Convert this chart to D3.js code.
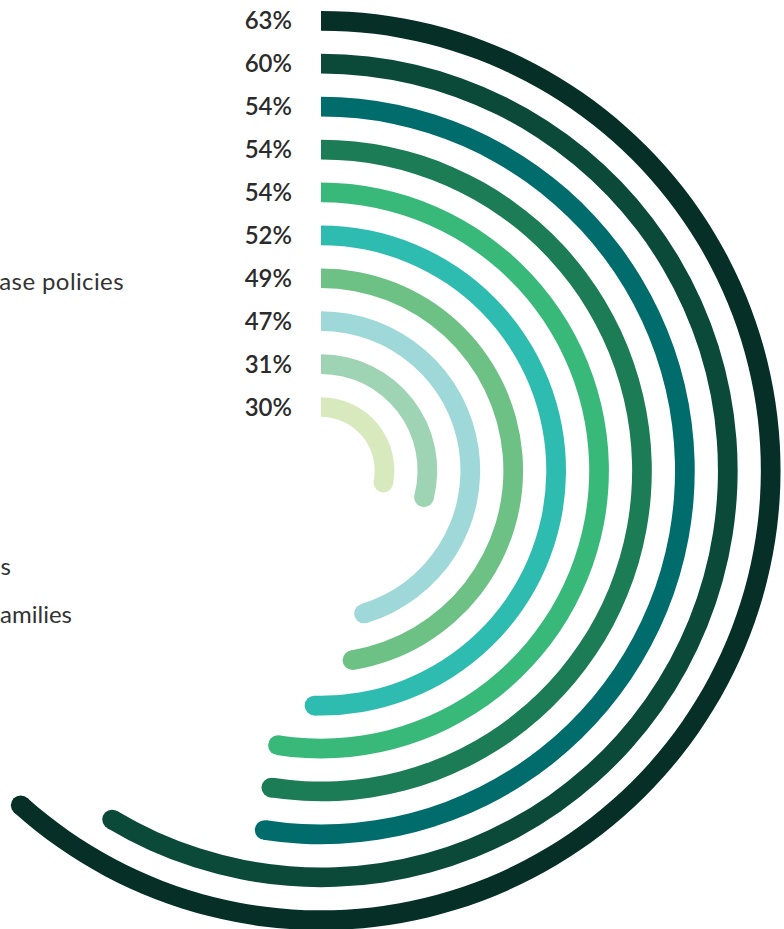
<!DOCTYPE html>
<html>
<head>
<meta charset="utf-8">
<script src="https://cdn.jsdelivr.net/npm/d3@7/dist/d3.min.js"></script>
<style>
  html, body { margin: 0; padding: 0; background: #ffffff; overflow: hidden; }
  svg { display: block; }
</style>
</head>
<body>
<svg id="chart" width="784" height="929"></svg>
<script>
// ---- data ----
const categories = ["c1", "c2", "c3", "c4", "c5", "c6", "c7", "c8", "c9", "c10"];
const values = [63, 60, 54, 54, 54, 52, 49, 47, 31, 30];
const valueLabels = ["63%", "60%", "54%", "54%", "54%", "52%", "49%", "47%", "31%", "30%"];
const colors = ["#062f27", "#0b4a38", "#016c6c", "#1b7c56", "#38b97a", "#2dbcaf", "#6dc185", "#9fd8d8", "#9ed4b3", "#d8e9bd"];
const sideTexts = ["ase policies", "s", "amilies"];

// ---- layout ----
const W = 784, H = 929;
const cx = 321, cy = 470.5;
const thick = 19.7;
const sideTextLayout = [
  { x: 124, y: 290, ls: 0.4 },
  { x: 11, y: 575, ls: 0 },
  { x: 72, y: 623, ls: 0 }
];

const svg = d3.select("#chart");

const rScale = d3.scalePoint()
  .domain(categories)
  .range([449.7, 63.5]);

const deg = Math.PI / 180;
const aScale = d3.scaleLinear()
  .domain([0, 100])
  .range([-9 * deg, 357.5 * deg]);

const g = svg.append("g").attr("transform", `translate(${cx},${cy})`);

const arc = d3.arc()
  .innerRadius(d => rScale(d.cat) - thick / 2)
  .outerRadius(d => rScale(d.cat) + thick / 2)
  .startAngle(0)
  .endAngle(d => aScale(d.value));

const rows = categories.map((c, i) => ({ cat: c, value: values[i], label: valueLabels[i], color: colors[i] }));

const bars = g.selectAll("g.bar").data(rows).join("g").attr("class", "bar");

bars.append("path")
  .attr("d", arc)
  .attr("fill", d => d.color);

bars.append("circle")
  .attr("cx", d => rScale(d.cat) * Math.sin(aScale(d.value)))
  .attr("cy", d => -rScale(d.cat) * Math.cos(aScale(d.value)))
  .attr("r", thick / 2)
  .attr("fill", d => d.color);

// value labels
g.selectAll("text.val").data(rows).join("text")
  .attr("class", "val")
  .attr("x", -29)
  .attr("y", d => -rScale(d.cat))
  .attr("dy", "0.36em")
  .attr("text-anchor", "end")
  .attr("font-family", "Lato, 'Open Sans', sans-serif")
  .attr("font-size", 24)
  .attr("font-weight", 600)
  .attr("fill", "#2b2b2b")
  .text(d => d.label);

// partially visible side texts
svg.selectAll("text.side").data(sideTexts).join("text")
  .attr("class", "side")
  .attr("x", (d, i) => sideTextLayout[i].x)
  .attr("y", (d, i) => sideTextLayout[i].y)
  .attr("letter-spacing", (d, i) => sideTextLayout[i].ls)
  .attr("text-anchor", "end")
  .attr("font-family", "Lato, 'Open Sans', sans-serif")
  .attr("font-size", 24)
  .attr("fill", "#333333")
  .text(d => d);
</script>
</body>
</html>
